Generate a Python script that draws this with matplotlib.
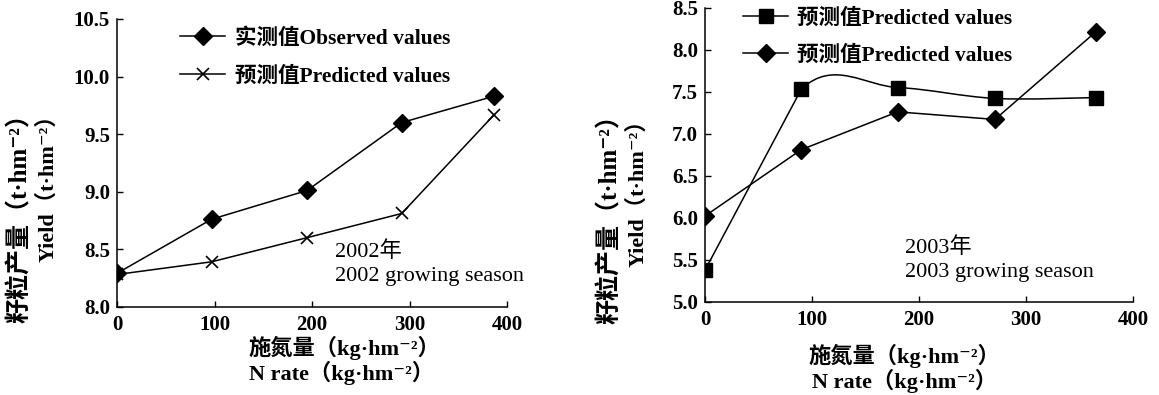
import matplotlib
matplotlib.use('Agg')
import matplotlib.pyplot as plt
from matplotlib.path import Path
from matplotlib.patches import PathPatch
from matplotlib.lines import Line2D

plt.rcParams['font.family'] = ['Liberation Serif', 'Noto Sans CJK SC', 'DejaVu Serif']

# 2002 season
n_2002 = [0, 97, 195, 292, 387]
obs_2002 = [8.29, 8.76, 9.01, 9.60, 9.83]
pred_2002 = [8.28, 8.39, 8.60, 8.81, 9.67]

# 2003 season
n_2003 = [0, 90, 180, 271, 365]
sq_2003 = [5.375, 7.53, 7.55, 7.42, 7.43]
dia_2003 = [6.02, 6.81, 7.26, 7.17, 8.21]

xticks = [0, 100, 200, 300, 400]
yticks_2002 = [8.0, 8.5, 9.0, 9.5, 10.0, 10.5]
yticks_2003 = [5.0, 5.5, 6.0, 6.5, 7.0, 7.5, 8.0, 8.5]

lab_obs = '实测值Observed values'
lab_pred = '预测值Predicted values'
ylab_cn = '籽粒产量（t·hm⁻²）'
ylab_en = 'Yield（t·hm⁻²）'
xlab_cn = '施氮量（kg·hm⁻²）'
xlab_en = 'N rate（kg·hm⁻²）'

W, H = 1159, 395
fig = plt.figure(figsize=(W / 100, H / 100), dpi=100)


def style_axes(ax, yticks):
    ax.spines['top'].set_visible(False)
    ax.spines['right'].set_visible(False)
    for s in ('left', 'bottom'):
        ax.spines[s].set_linewidth(1.1)
    ax.set_xlim(0, 400)
    ax.set_ylim(yticks[0], yticks[-1])
    ax.set_xticks(xticks)
    ax.set_yticks(yticks)
    ax.set_yticklabels(['%.1f' % v for v in yticks])
    ax.tick_params(direction='in', length=4.5, width=1.0, labelsize=15, pad=5)
    ax.tick_params(axis='x', pad=6)
    for t in ax.get_xticklabels() + ax.get_yticklabels():
        t.set_fontweight('bold')


def smooth_path(xs, ys):
    # first segment straight, rest Catmull-Rom style bezier (Excel smoothing)
    pts = list(zip(xs, ys))
    verts = [pts[0], pts[1]]
    codes = [Path.MOVETO, Path.LINETO]
    n = len(pts)
    for i in range(1, n - 1):
        p0 = pts[i - 1]
        p1 = pts[i]
        p2 = pts[i + 1]
        p3 = pts[i + 2] if i + 2 < n else pts[i + 1]
        c1 = (p1[0] + (p2[0] - p0[0]) / 6, p1[1] + (p2[1] - p0[1]) / 6)
        c2 = (p2[0] - (p3[0] - p1[0]) / 6, p2[1] - (p3[1] - p1[1]) / 6)
        verts += [c1, c2, p2]
        codes += [Path.CURVE4] * 3
    return Path(verts, codes)


# ---- left panel (2002)
ax1 = fig.add_axes([117 / W, 1 - 306.7 / H, 390 / W, 287.7 / H])
style_axes(ax1, yticks_2002)
ax1.plot(n_2002, pred_2002, '-', color='black', lw=1.1, marker='x', ms=8, mew=1.2,
         label=lab_pred, zorder=3)
ax1.plot(n_2002, obs_2002, '-', color='black', lw=1.1, marker='D', ms=9.5,
         label=lab_obs, zorder=4)
h, l = ax1.get_legend_handles_labels()
ax1.legend(h[::-1], l[::-1], loc='center left', bbox_to_anchor=(0.1615, 0.866),
           frameon=False, borderpad=0, borderaxespad=0, handlelength=2.1,
           handletextpad=0.45, labelspacing=0.82,
           prop={'size': 15.5, 'weight': 'bold'})
ax1.text(0.559, 0.191, '2002年', transform=ax1.transAxes, fontsize=16, va='center')
ax1.text(0.559, 0.104, '2002 growing season', transform=ax1.transAxes, fontsize=16,
         va='center')

# ---- right panel (2003)
ax2 = fig.add_axes([705 / W, 1 - 301.7 / H, 428 / W, 294 / H])
style_axes(ax2, yticks_2003)
ax2.add_patch(PathPatch(smooth_path(n_2003, sq_2003), fill=False, edgecolor='black',
                        lw=1.1, zorder=3))
ax2.plot(n_2003, sq_2003, linestyle='none', color='black', marker='s', ms=10, zorder=4)
ax2.plot(n_2003, dia_2003, '-', color='black', lw=1.1, marker='D', ms=9.5, zorder=4)
handles = [Line2D([], [], color='black', lw=1.1, marker='s', ms=10),
           Line2D([], [], color='black', lw=1.1, marker='D', ms=9.5)]
ax2.legend(handles, [lab_pred, lab_pred], loc='center left',
           bbox_to_anchor=(0.0888, 0.900), frameon=False, borderpad=0,
           borderaxespad=0, handlelength=2.1, handletextpad=0.4, labelspacing=0.75,
           prop={'size': 15.5, 'weight': 'bold'})
ax2.text(0.467, 0.183, '2003年', transform=ax2.transAxes, fontsize=16, va='center')
ax2.text(0.467, 0.098, '2003 growing season', transform=ax2.transAxes, fontsize=16,
         va='center')

# ---- axis titles
for xc, yc, s, fs in [(20, 212, ylab_cn, 18), (48, 183, ylab_en, 16),
                      (610, 213, ylab_cn, 18), (638, 188, ylab_en, 16)]:
    fig.text(xc / W, 1 - yc / H, s, rotation=90, ha='center', va='center',
             fontsize=fs, fontweight='bold')
for xc, yc, s in [(344, 348, xlab_cn), (341.5, 373, xlab_en),
                  (904.5, 356, xlab_cn), (905, 381, xlab_en)]:
    fig.text(xc / W, 1 - yc / H, s, ha='center', va='center',
             fontsize=16, fontweight='bold')

fig.savefig('out.png', dpi=100)
